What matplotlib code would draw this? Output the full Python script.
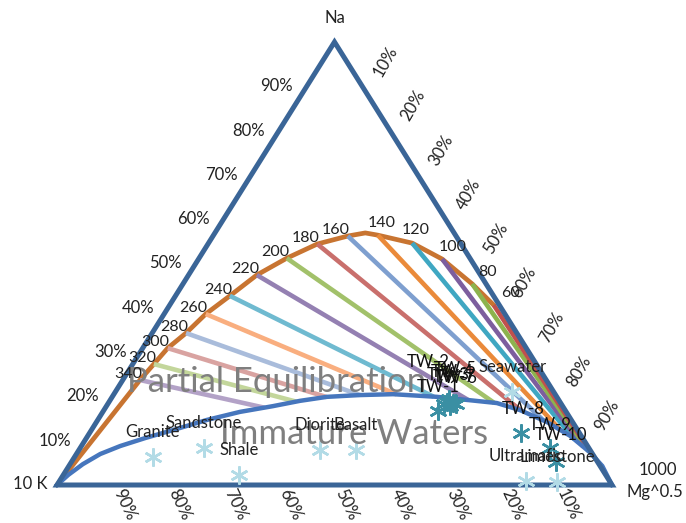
import numpy as np
import matplotlib
matplotlib.use("Agg")
import matplotlib.pyplot as plt
from matplotlib.patches import Polygon

plt.rcParams["font.family"] = ["Lato", "DejaVu Sans"]

# full equilibrium curve, Na % and Mg^0.5 % (K is the rest); temperature where labelled
eq_na = [0, 23.7, 27.3, 30.9, 34.3, 38.6, 42.7, 47.4, 51.2, 54.4, 56.2, 56.9, 56.4, 54.6, 51.0, 45.4, 40.6]
eq_mg = [0, 3.1, 3.8, 4.5, 6.1, 7.5, 9.8, 12.3, 15.8, 19.7, 24.3, 27.1, 29.6, 36.7, 43.9, 52.1, 58.4]
eq_temp = [None, 340, 320, 300, 280, 260, 240, 220, 200, 180, 160, None, 140, 120, 100, 80, 60]

# immature waters boundary (partial equilibration line)
imm_na = [0, 2.3, 4.7, 7.0, 8.8, 10.6, 12.4, 14.7, 16.5, 17.8, 19.0, 19.9, 20.3, 20.5, 19.9, 19.2,
          18.5, 16.9, 14.2, 11.1, 7.4, 4.3, 0]
imm_mg = [0, 0.9, 2.3, 4.3, 7.0, 10.6, 14.7, 19.7, 24.7, 30.0, 34.3, 38.7, 44.4, 50.3, 58.5, 64.3,
          70.0, 75.0, 81.2, 86.9, 92.3, 96.1, 100]

# rock types
rock_names = ["Granite", "Sandstone", "Shale", "Diorite", "Basalt", "Seawater", "Ultramafic", "Limestone"]
rock_na = [6.3, 8.4, 2.3, 7.9, 7.9, 21.0, 0.9, 0.7]
rock_mg = [14.1, 22.3, 31.7, 43.4, 49.9, 71.5, 84.1, 89.8]

# water samples
tw_names = ["TW-1", "TW-2", "TW-3", "TW-4", "TW-5", "TW-6", "TW-7", "TW-8", "TW-9", "TW-10"]
tw_na = [16.7, 18.3, 18.7, 17.8, 18.5, 18.3, 19.4, 11.7, 8.4, 5.2]
tw_mg = [60.3, 60.6, 60.9, 61.9, 62.1, 62.8, 60.9, 77.7, 84.7, 87.3]

pct_labels = ["10%", "20%", "30%", "40%", "50%", "60%", "70%", "80%", "90%"]

# styling
iso_colors = {340: "#B3A2C7", 320: "#C3D69B", 300: "#D9A3A1", 280: "#A9BCDB", 260: "#F9AE7F",
              240: "#6FBAD0", 220: "#9480B2", 200: "#A2C16A", 180: "#C96F6C", 160: "#7E9FCF",
              140: "#EA8A3A", 120: "#3FA7C2", 100: "#7D5E9E", 80: "#8DB34E", 60: "#C0504D"}
temp_off = {140: (4, -12), 120: (3, -13), 100: (11, -12), 80: (15, -12), 60: (17, -12)}
tw_off = [(0, -24), (-16, -42), (1, -27), (2, -34), (2, -34), (0, -26), (5, -22), (2, -24), (0, -23), (5, -27)]
PX = 0.72  # points per pixel at dpi 100
FS = 12
TXT = "#222222"


def tern(na, mg):
    na = np.asarray(na, float) / 100; mg = np.asarray(mg, float) / 100
    return mg + na / 2, na


fig = plt.figure(figsize=(6.86, 5.23), dpi=100)
ax = fig.add_axes([57 / 686, 38 / 523, 555 / 686, 443 / 523])
ax.set_xlim(0, 1); ax.set_ylim(0, 1); ax.set_axis_off()

ex, ey = tern(eq_na, eq_mg)
ix, iy = tern(imm_na, imm_mg)
ax.plot(ex, ey, color="#C87431", lw=3.4, solid_capstyle="round", solid_joinstyle="round",
        zorder=2, clip_on=False)

# isotherms: from full equilibrium toward the Mg corner, stopped at the immature line
t = np.linspace(0, 1, 2000)
for x0, y0, T in zip(ex, ey, eq_temp):
    if T is None:
        continue
    px = x0 + t * (1 - x0); py = y0 - t * y0
    k = np.argmax(py <= np.interp(px, ix, iy))
    ax.plot([x0, px[k]], [y0, py[k]], color=iso_colors[T], lw=3.3, solid_capstyle="butt",
            zorder=3, clip_on=False)
    dx, dy = temp_off.get(T, (-12, -6))
    ax.annotate(str(T), (x0, y0), xytext=(dx * PX, -dy * PX), textcoords="offset points",
                ha="center", va="center", fontsize=11.5, color=TXT, zorder=8)

ax.plot(ix, iy, color="#4676BD", lw=3.2, solid_joinstyle="round", zorder=4, clip_on=False)
ax.add_patch(Polygon([[0, 0], [1, 0], [0.5, 1]], closed=True, fill=False, ec="#3A6597",
                     lw=3.6, joinstyle="miter", zorder=5, clip_on=False))

# big region captions
ax.text(0.396, (485 - 392) / 443, "Partial Equilibration", fontsize=25, color="#7F7F7F",
        ha="center", va="baseline", zorder=7)
ax.text(0.536, (485 - 444) / 443, "Immature Waters", fontsize=25, color="#7F7F7F",
        ha="center", va="baseline", zorder=7)

rx, ry = tern(rock_na, rock_mg)
ax.plot(rx, ry, ls="none", marker=(6, 2, 0), ms=13, mew=1.8, mec="#B2DBE6", zorder=6, clip_on=False)
for x, y, n in zip(rx, ry, rock_names):
    ax.annotate(n, (x, y), xytext=(0, 25 * PX), textcoords="offset points", ha="center",
                va="center", fontsize=FS, color=TXT, zorder=8)

sx, sy = tern(tw_na, tw_mg)
ax.plot(sx, sy, ls="none", marker=(6, 2, 0), ms=13, mew=1.8, mec="#3A8FA3", zorder=6, clip_on=False)
for x, y, n, (dx, dy) in zip(sx, sy, tw_names, tw_off):
    ax.annotate(n, (x, y), xytext=(dx * PX, -dy * PX), textcoords="offset points", ha="center",
                va="center", fontsize=FS, color="#111111", zorder=8)

# edge percentages
for i, lab in enumerate(pct_labels):
    p = (i + 1) / 10
    ax.annotate(lab, (p / 2, p), xytext=(-30 * PX, 0), textcoords="offset points",
                ha="center", va="center", fontsize=FS, color=TXT)
    ax.annotate(lab, (0.5 + p / 2, 1 - p), xytext=(23 * PX, 25 * PX), textcoords="offset points",
                ha="center", va="center", fontsize=FS, color=TXT, rotation=60)
    ax.annotate(pct_labels[8 - i], (p, 0), xytext=(12 * PX, -20 * PX), textcoords="offset points",
                ha="center", va="center", fontsize=FS, color=TXT, rotation=-65)

ax.annotate("Na", (0.5, 1), xytext=(0, 24 * PX), textcoords="offset points", ha="center",
            va="center", fontsize=FS, color=TXT)
ax.annotate("10 K", (0, 0), xytext=(-27 * PX, 1 * PX), textcoords="offset points", ha="center",
            va="center", fontsize=FS, color=TXT)
ax.annotate("1000", (1, 0), xytext=(46 * PX, 15 * PX), textcoords="offset points", ha="center",
            va="center", fontsize=FS, color=TXT)
ax.annotate("Mg^0.5", (1, 0), xytext=(43 * PX, -7 * PX), textcoords="offset points", ha="center",
            va="center", fontsize=FS, color=TXT)

fig.savefig("out.png", dpi=100)
